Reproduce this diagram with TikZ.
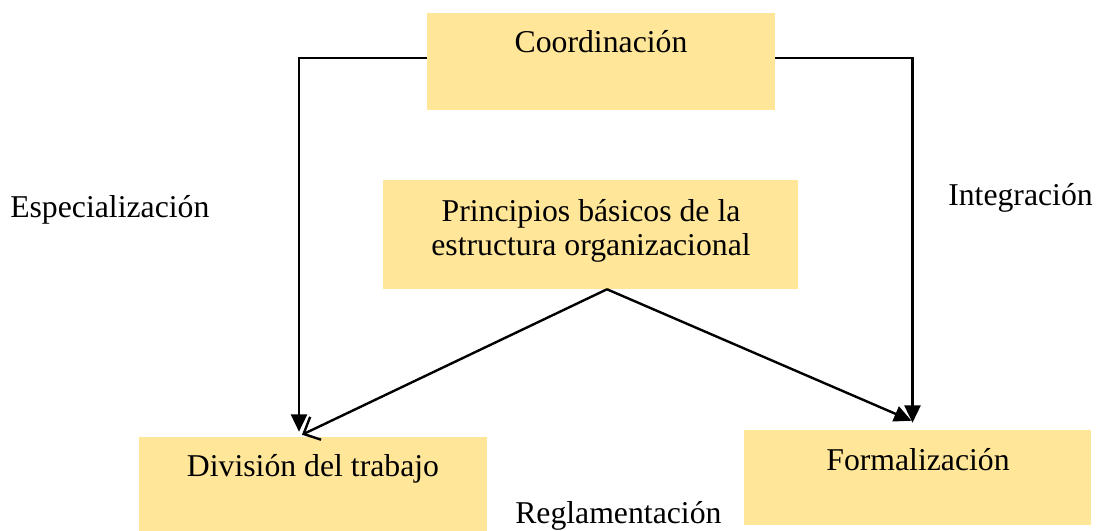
\documentclass[tikz,border=0pt]{standalone}
\usepackage{fontspec}
\setmainfont{Liberation Serif}
\usetikzlibrary{arrows.meta,calc}
\definecolor{boxfill}{HTML}{FFE699}
\begin{document}
\begin{tikzpicture}[x=0.75pt,y=-0.75pt,
  box/.style={draw=none,fill=boxfill,inner sep=0pt},
  txt/.style={inner sep=0pt,font=\fontsize{23.8pt}{25.5pt}\selectfont},
  conn/.style={line width=1.8pt,black},
  filled/.style={-{Triangle[width=12pt,length=13pt]}},
  barb/.style={-{Straight Barb[length=10pt,width=19pt]}}]
\useasboundingbox (0,0) rectangle (1099,531);
% boxes
\node[box,minimum width=261pt,minimum height=72.75pt] (coord) at (601,61.5) {};
\node[box,minimum width=311.25pt,minimum height=81.75pt] (princ) at (590.5,234.5) {};
\node[box,minimum width=261pt,minimum height=70.5pt] (div) at (313,484) {};
\node[box,minimum width=260.25pt,minimum height=71.25pt] (form) at (917.5,477.5) {};
% texts
\node[txt,anchor=base] (tcoord) at (601,53) {Coordinación};
\node[txt,anchor=center,align=center] (tprinc) at (591,230.5) {Principios básicos de la\\estructura organizacional};
\node[txt,anchor=base] (tdiv) at (313,476) {División del trabajo};
\node[txt,anchor=base] (tform) at (918,470) {Formalización};
\node[txt,anchor=base west] (lesp) at (10,217) {Especialización};
\node[txt,anchor=base west] (lint) at (948,205) {Integración};
\node[txt,anchor=base west] (lreg) at (515,523) {Reglamentación};
% connector points
\coordinate (cl) at ($(coord.west)+(0,-3.5)$);
\coordinate (cr) at ($(coord.east)+(0,-3.5)$);
\coordinate (ps) at ($(princ.south)+(16.5,0)$);
\coordinate (dl) at ($(div.north)+(-14,-5)$);
\coordinate (dd) at ($(div.north)+(-11,-2)$);
\coordinate (fr) at ($(form.north)+(-5,-7)$);
\coordinate (fd) at ($(form.north)+(-6,-9)$);
% connectors
\draw[conn,filled] (cl) -| (dl);
\draw[conn,filled] (cr) -| (fr);
\draw[conn,barb] (ps) -- (dd);
\draw[conn,filled] (ps) -- (fd);
\end{tikzpicture}
\end{document}
